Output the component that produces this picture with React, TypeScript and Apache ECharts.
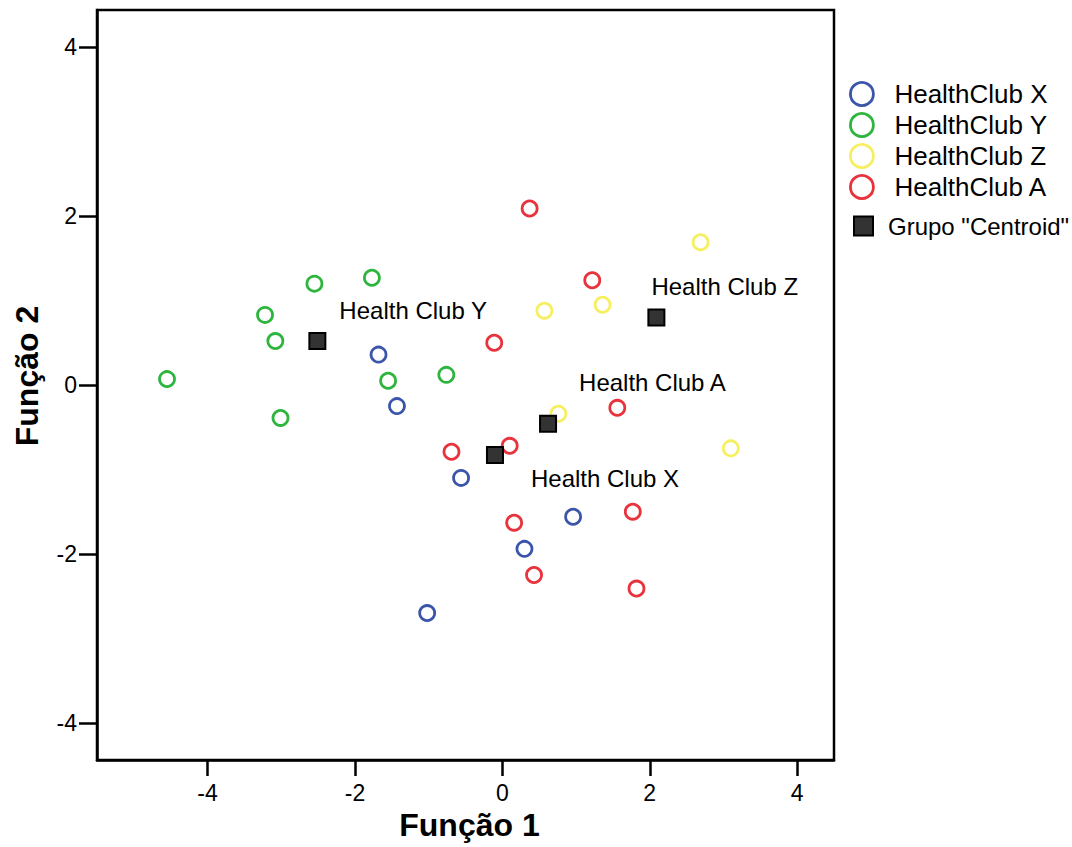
import React, { useEffect, useRef } from "react";
import * as echarts from "echarts";

const FONT = "'Liberation Sans', Arial, Helvetica, sans-serif";

const groupNames = ["HealthClub X", "HealthClub Y", "HealthClub Z", "HealthClub A"];
const groupColors = ["#3b55aa", "#2db53d", "#f6ef62", "#e8323c"];

const clubX: number[][] = [
  [-1.68, 0.36], [-1.43, -0.25], [-0.56, -1.1], [0.96, -1.56], [0.3, -1.94], [-1.02, -2.7],
];
const clubY: number[][] = [
  [-4.55, 0.07], [-3.22, 0.83], [-3.08, 0.52], [-2.55, 1.2], [-1.77, 1.27], [-1.55, 0.05],
  [-0.76, 0.12], [-3.01, -0.39],
];
const clubZ: number[][] = [
  [2.69, 1.69], [0.57, 0.88], [1.36, 0.95], [0.76, -0.34], [3.1, -0.75],
];
const clubA: number[][] = [
  [0.37, 2.09], [1.22, 1.24], [-0.11, 0.5], [1.56, -0.27], [-0.69, -0.79], [0.1, -0.72],
  [0.16, -1.63], [1.77, -1.5], [0.43, -2.25], [1.82, -2.41],
];
const groupData = [clubX, clubY, clubZ, clubA];

const centroidName = 'Grupo "Centroid"';
const centroidLabels = ["Health Club Y", "Health Club X", "Health Club A", "Health Club Z"];
const centroids: number[][] = [
  [-2.51, 0.52], [-0.1, -0.83], [0.62, -0.46], [2.09, 0.8],
];
const labelOffsets: number[][] = [
  [27, -22], [41, 32], [36, -32], [0, -22],
];

const tickValues = [-4, -2, 0, 2, 4];

export default function App() {
  const ref = useRef<HTMLDivElement>(null);
  useEffect(() => {
    if (!ref.current) return;
    const chart = echarts.init(ref.current, null, { renderer: "svg" });
    const pointSeries = groupNames.map((name, i) => ({
      name,
      type: "scatter",
      data: groupData[i],
      symbol: "circle",
      symbolSize: 15,
      itemStyle: { color: "rgba(255,255,255,0)", borderColor: groupColors[i], borderWidth: 2.8, opacity: 1 },
      z: 2,
    }));
    const centroidSeries = {
      name: centroidName,
      type: "scatter",
      symbol: "rect",
      symbolSize: 16,
      itemStyle: { color: "#333333", borderColor: "#000", borderWidth: 2, opacity: 1 },
      z: 5,
      data: centroids.map((c, i) => ({
        value: c,
        label: {
          show: true,
          formatter: centroidLabels[i],
          position: [labelOffsets[i][0], labelOffsets[i][1]],
          align: "left",
          verticalAlign: "middle",
          fontFamily: FONT,
          fontSize: 24,
          color: "#000",
          backgroundColor: "#fff",
          padding: [2, 4],
        },
      })),
    };
    chart.setOption({
      animation: false,
      backgroundColor: "#fff",
      textStyle: { fontFamily: FONT },
      grid: {
        left: 97, top: 10, width: 737, height: 750,
        show: true, borderColor: "#000", borderWidth: 2.5, backgroundColor: "transparent",
      },
      legend: [
        {
          orient: "vertical",
          left: 849,
          top: 81,
          padding: 0,
          itemWidth: 23,
          itemHeight: 23,
          itemGap: 5,
          data: groupNames.map((n, i) => ({
            name: n,
            icon: "circle",
            itemStyle: { color: "rgba(255,255,255,0)", borderColor: groupColors[i], borderWidth: 2.8 },
          })),
          textStyle: { fontFamily: FONT, fontSize: 26, lineHeight: 23, color: "#000", padding: [0, 0, 0, 16] },
          selectedMode: false,
        },
        {
          orient: "vertical",
          left: 853,
          top: 214,
          padding: 0,
          itemWidth: 19,
          itemHeight: 19,
          data: [{ name: centroidName, icon: "rect", itemStyle: { color: "#333", borderColor: "#000", borderWidth: 2 } }],
          textStyle: { fontFamily: FONT, fontSize: 24, lineHeight: 20, color: "#000", padding: [0, 0, 0, 10] },
          selectedMode: false,
        },
      ],
      xAxis: {
        type: "value",
        min: -5.5,
        max: 4.5,
        name: "Função 1",
        nameLocation: "middle",
        nameGap: 44,
        nameTextStyle: { fontFamily: FONT, fontSize: 32, fontWeight: "bold", color: "#000", padding: [0, 0, 0, 8] },
        axisLine: { show: true, onZero: false, lineStyle: { color: "#000", width: 2.5 } },
        axisTick: { show: true, customValues: tickValues, length: 16, lineStyle: { color: "#000", width: 2.5 } },
        axisLabel: { customValues: tickValues, margin: 21, fontSize: 23, color: "#000", fontFamily: FONT },
        splitLine: { show: false },
      },
      yAxis: {
        type: "value",
        min: -4.44,
        max: 4.44,
        name: "Função 2",
        nameLocation: "middle",
        nameGap: 54,
        nameTextStyle: { fontFamily: FONT, fontSize: 32, fontWeight: "bold", color: "#000", padding: [0, 0, 0, 18] },
        axisLine: { show: true, onZero: false, lineStyle: { color: "#000", width: 2.5 } },
        axisTick: { show: true, customValues: tickValues, length: 18, lineStyle: { color: "#000", width: 2.5 } },
        axisLabel: { customValues: tickValues, margin: 20, fontSize: 23, color: "#000", fontFamily: FONT },
        splitLine: { show: false },
      },
      series: [...pointSeries, centroidSeries],
    });
    return () => chart.dispose();
  }, []);
  return (
    <div
      ref={ref}
      style={{ position: "absolute", left: 0, top: 0, width: 1072, height: 847 }}
    />
  );
}
